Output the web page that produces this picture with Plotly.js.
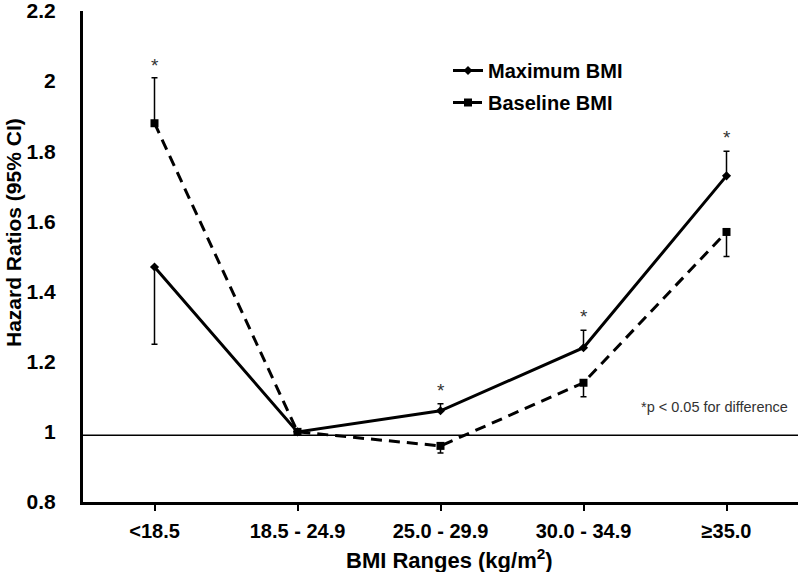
<!DOCTYPE html>
<html>
<head>
<meta charset="utf-8">
<script src="https://cdn.plot.ly/plotly-3.0.1.min.js"></script>
<style>html,body{margin:0;padding:0;background:#fff;}#chart{width:800px;height:572px;}</style>
</head>
<body>
<div id="chart"></div>
<script>
// Categories
const categories = ["<18.5", "18.5 - 24.9", "25.0 - 29.9", "30.0 - 34.9", "\u226535.0"];
// Hazard ratios
const maxBMI = [1.47, 1.00, 1.06, 1.24, 1.73];
const baseBMI = [1.88, 1.00, 0.96, 1.14, 1.57];
// One-sided CI lengths
const maxPlus = [0, 0, 0.02, 0.05, 0.07];
const maxMinus = [0.22, 0, 0, 0, 0];
const basePlus = [0.13, 0, 0, 0, 0];
const baseMinus = [0, 0, 0.02, 0.04, 0.07];
// Significance stars
const starCats = ["<18.5", "25.0 - 29.9", "30.0 - 34.9", "\u226535.0"];
const starY = [2.055, 1.13, 1.34, 1.85];
const refLine = 0.99;
const yTicks = [0.8, 1, 1.2, 1.4, 1.6, 1.8, 2, 2.2];
const yTickText = ["0.8", "1", "1.2", "1.4", "1.6", "1.8", "2", "2.2"];

const fam = "Liberation Sans, Arial, sans-serif";
const L = 83, T = 11, W = 715, H = 491;
const px = x => (x - L) / W;
const py = y => (T + H - y) / H;

const traces = [
  {
    x: categories, y: maxBMI, name: "Maximum BMI", type: "scatter", mode: "lines+markers",
    legendgroup: "a",
    line: {color: "#000", width: 3},
    marker: {symbol: "diamond", size: 7, color: "#000"},
    error_y: {type: "data", symmetric: false, array: maxPlus, arrayminus: maxMinus, color: "#000", thickness: 1.5, width: 3}
  },
  {
    x: categories, y: baseBMI, name: "Baseline BMI", type: "scatter", mode: "lines+markers",
    legendgroup: "b",
    line: {color: "#000", width: 3, dash: "11px,7px"},
    marker: {symbol: "square", size: 8, color: "#000"},
    error_y: {type: "data", symmetric: false, array: basePlus, arrayminus: baseMinus, color: "#000", thickness: 1.5, width: 3}
  }
];

const annotations = starCats.map((c, i) => ({
  x: c, y: starY[i], xref: "x", yref: "y", text: "*", showarrow: false, yshift: -4,
  font: {family: fam, size: 19, color: "#333"}
}));
annotations.push({
  x: px(714), y: 1.071, xref: "paper", yref: "y", text: "*p < 0.05 for difference", showarrow: false,
  font: {family: fam, size: 14.5, color: "#333"}, xanchor: "center", yanchor: "middle"
});
annotations.push({
  x: px(14), y: py(233), xref: "paper", yref: "paper", text: "Hazard Ratios (95% CI)", showarrow: false,
  xanchor: "center", yanchor: "middle",
  textangle: -90, font: {family: fam, size: 21, weight: "bold", color: "#000"}
});
annotations.push({
  x: px(449), y: py(559), xref: "paper", yref: "paper", text: "BMI Ranges (kg/m<sup>2</sup>)", showarrow: false,
  xanchor: "center", yanchor: "middle",
  font: {family: fam, size: 22, weight: "bold", color: "#000"}
});

const layout = {
  width: 800, height: 572,
  margin: {l: L, r: 800 - L - W, t: T, b: 572 - T - H},
  paper_bgcolor: "#fff", plot_bgcolor: "#fff",
  font: {family: fam, color: "#000"},
  showlegend: true,
  legend: {
    x: px(448), y: py(51), xanchor: "left", yanchor: "top",
    font: {family: fam, size: 20, weight: "bold", color: "#000"},
    bgcolor: "rgba(0,0,0,0)", tracegroupgap: 3, itemwidth: 30
  },
  xaxis: {
    type: "category", range: [-0.5, 4.5],
    showline: true, linecolor: "#000", linewidth: 3,
    ticks: "outside", ticklen: 6, tickwidth: 2, tickcolor: "#000",
    showgrid: false, zeroline: false, ticklabelstandoff: 3,
    tickfont: {family: fam, size: 20, weight: "bold", color: "#000"}
  },
  yaxis: {
    range: [0.8, 2.2], tickvals: yTicks, ticktext: yTickText,
    showline: true, linecolor: "#000", linewidth: 3,
    ticks: "", showgrid: false, zeroline: false,
    ticklabelstandoff: 20, ticklabeloverflow: "allow",
    tickfont: {family: fam, size: 21, weight: "bold", color: "#000"}
  },
  shapes: [{
    type: "line", xref: "paper", x0: 0, x1: 1, yref: "y", y0: refLine, y1: refLine,
    line: {color: "#000", width: 1.5}, layer: "below"
  }],
  annotations: annotations
};

Plotly.newPlot("chart", traces, layout, {displayModeBar: false, staticPlot: true});
</script>
</body>
</html>
